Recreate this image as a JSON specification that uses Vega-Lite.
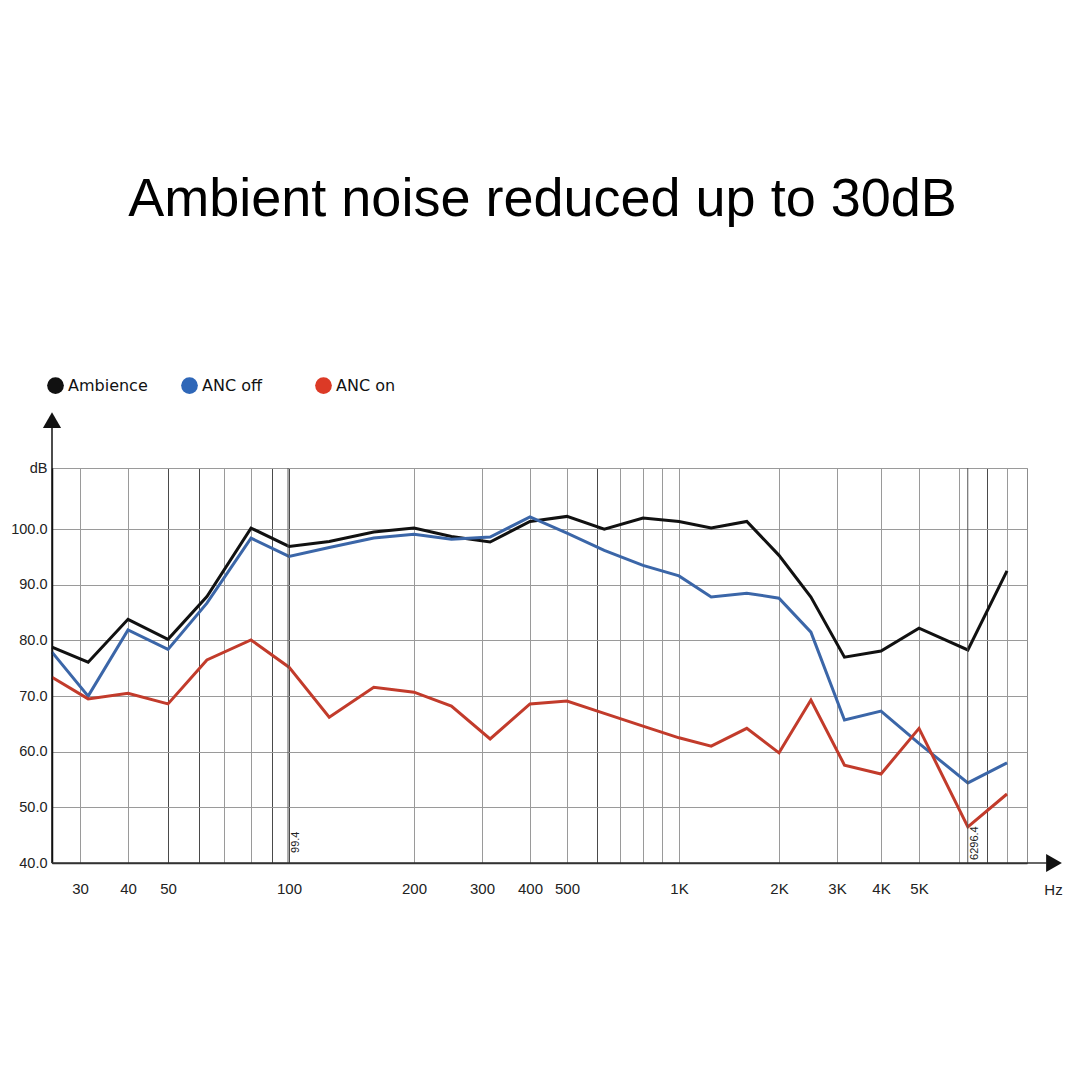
{
  "$schema": "https://vega.github.io/schema/vega-lite/v6.json",
  "width": 975,
  "height": 395,
  "autosize": {"type": "none"},
  "padding": {"left": 52, "top": 468, "right": 53, "bottom": 217},
  "background": "white",
  "title": {
    "text": "Ambient noise reduced up to 30dB",
    "font": "Liberation Sans",
    "fontSize": 54,
    "fontWeight": "normal",
    "color": "#000000",
    "anchor": "middle",
    "frame": "group",
    "baseline": "alphabetic",
    "offset": 107,
    "dx": 3
  },
  "config": {
    "view": {"stroke": "#8c8c8c", "strokeWidth": 1}
  },
  "datasets": {
    "noise": [
      {"freq": 25, "series": "Ambience", "db": 78.8},
      {"freq": 31.5, "series": "Ambience", "db": 76.1},
      {"freq": 40, "series": "Ambience", "db": 83.8},
      {"freq": 50, "series": "Ambience", "db": 80.2},
      {"freq": 63, "series": "Ambience", "db": 87.9},
      {"freq": 80, "series": "Ambience", "db": 100.2},
      {"freq": 100, "series": "Ambience", "db": 96.9},
      {"freq": 125, "series": "Ambience", "db": 97.8},
      {"freq": 160, "series": "Ambience", "db": 99.5},
      {"freq": 200, "series": "Ambience", "db": 100.2},
      {"freq": 250, "series": "Ambience", "db": 98.7},
      {"freq": 315, "series": "Ambience", "db": 97.7},
      {"freq": 400, "series": "Ambience", "db": 101.4},
      {"freq": 500, "series": "Ambience", "db": 102.3},
      {"freq": 630, "series": "Ambience", "db": 100.0},
      {"freq": 800, "series": "Ambience", "db": 102.0},
      {"freq": 1000, "series": "Ambience", "db": 101.4},
      {"freq": 1250, "series": "Ambience", "db": 100.2},
      {"freq": 1600, "series": "Ambience", "db": 101.4},
      {"freq": 2000, "series": "Ambience", "db": 95.3},
      {"freq": 2500, "series": "Ambience", "db": 87.8},
      {"freq": 3150, "series": "Ambience", "db": 77.0},
      {"freq": 4000, "series": "Ambience", "db": 78.1},
      {"freq": 5000, "series": "Ambience", "db": 82.2},
      {"freq": 6300, "series": "Ambience", "db": 78.3},
      {"freq": 8000, "series": "Ambience", "db": 92.5},

      {"freq": 25, "series": "ANC off", "db": 77.9},
      {"freq": 31.5, "series": "ANC off", "db": 70.0},
      {"freq": 40, "series": "ANC off", "db": 81.9},
      {"freq": 50, "series": "ANC off", "db": 78.4},
      {"freq": 63, "series": "ANC off", "db": 86.7},
      {"freq": 80, "series": "ANC off", "db": 98.4},
      {"freq": 100, "series": "ANC off", "db": 95.1},
      {"freq": 125, "series": "ANC off", "db": 96.7},
      {"freq": 160, "series": "ANC off", "db": 98.4},
      {"freq": 200, "series": "ANC off", "db": 99.1},
      {"freq": 250, "series": "ANC off", "db": 98.2},
      {"freq": 315, "series": "ANC off", "db": 98.6},
      {"freq": 400, "series": "ANC off", "db": 102.2},
      {"freq": 500, "series": "ANC off", "db": 99.3},
      {"freq": 630, "series": "ANC off", "db": 96.2},
      {"freq": 800, "series": "ANC off", "db": 93.5},
      {"freq": 1000, "series": "ANC off", "db": 91.6},
      {"freq": 1250, "series": "ANC off", "db": 87.8},
      {"freq": 1600, "series": "ANC off", "db": 88.5},
      {"freq": 2000, "series": "ANC off", "db": 87.6},
      {"freq": 2500, "series": "ANC off", "db": 81.5},
      {"freq": 3150, "series": "ANC off", "db": 65.7},
      {"freq": 4000, "series": "ANC off", "db": 67.3},
      {"freq": 5000, "series": "ANC off", "db": 61.5},
      {"freq": 6300, "series": "ANC off", "db": 54.4},
      {"freq": 8000, "series": "ANC off", "db": 58.0},

      {"freq": 25, "series": "ANC on", "db": 73.4},
      {"freq": 31.5, "series": "ANC on", "db": 69.5},
      {"freq": 40, "series": "ANC on", "db": 70.5},
      {"freq": 50, "series": "ANC on", "db": 68.6},
      {"freq": 63, "series": "ANC on", "db": 76.5},
      {"freq": 80, "series": "ANC on", "db": 80.1},
      {"freq": 100, "series": "ANC on", "db": 75.2},
      {"freq": 125, "series": "ANC on", "db": 66.2},
      {"freq": 160, "series": "ANC on", "db": 71.6},
      {"freq": 200, "series": "ANC on", "db": 70.7},
      {"freq": 250, "series": "ANC on", "db": 68.2},
      {"freq": 315, "series": "ANC on", "db": 62.3},
      {"freq": 400, "series": "ANC on", "db": 68.6},
      {"freq": 500, "series": "ANC on", "db": 69.1},
      {"freq": 630, "series": "ANC on", "db": 66.9},
      {"freq": 800, "series": "ANC on", "db": 64.6},
      {"freq": 1000, "series": "ANC on", "db": 62.5},
      {"freq": 1250, "series": "ANC on", "db": 61.0},
      {"freq": 1600, "series": "ANC on", "db": 64.2},
      {"freq": 2000, "series": "ANC on", "db": 59.8},
      {"freq": 2500, "series": "ANC on", "db": 69.3},
      {"freq": 3150, "series": "ANC on", "db": 57.6},
      {"freq": 4000, "series": "ANC on", "db": 56.0},
      {"freq": 5000, "series": "ANC on", "db": 64.2},
      {"freq": 6300, "series": "ANC on", "db": 46.5},
      {"freq": 8000, "series": "ANC on", "db": 52.4}
    ],
    "cursors": [
      {"freq": 99.4, "label": "99.4"},
      {"freq": 6296.4, "label": "6296.4"}
    ]
  },
  "layer": [
    {
      "data": {"name": "noise"},
      "mark": {"type": "line", "strokeWidth": 3, "strokeJoin": "miter"},
      "encoding": {
        "x": {
          "field": "freq",
          "type": "quantitative",
          "scale": {
            "type": "log",
            "domain": [25, 30, 40, 50, 60, 70, 80, 90, 100, 200, 300, 400, 500, 600, 700, 800, 900, 1000, 2000, 3000, 4000, 5000, 6000, 7000, 8000, 9000],
            "range": [0, 28, 76, 116, 147, 172, 199, 220, 237, 362, 430, 478, 515, 545, 568, 591, 610, 627, 727, 785, 829, 867, 907, 935, 955, 975],
            "nice": false
          },
          "axis": {
            "values": [30, 40, 50, 60, 70, 80, 90, 100, 200, 300, 400, 500, 600, 700, 800, 900, 1000, 2000, 3000, 4000, 5000, 6000, 7000, 8000],
            "labelExpr": "indexof([30, 40, 50, 100, 200, 300, 400, 500], datum.value) >= 0 ? '' + datum.value : (indexof([1000, 2000, 3000, 4000, 5000], datum.value) >= 0 ? (datum.value / 1000) + 'K' : '')",
            "labelFont": "Liberation Sans",
            "labelFontSize": 15,
            "labelColor": "#222222",
            "labelPadding": 18,
            "labelOverlap": false,
            "labelFlush": false,
            "labelBound": false,
            "ticks": false,
            "domainColor": "#333333",
            "domainWidth": 1.5,
            "grid": true,
            "gridColor": {"condition": {"test": "indexof([50, 60, 90, 100, 600, 7000], datum.value) >= 0", "value": "#4a4a4a"}, "value": "#9a9a9a"},
            "gridWidth": 1,
            "gridOpacity": 1,
            "title": "Hz",
            "titleFont": "Liberation Sans",
            "titleFontSize": 15,
            "titleFontWeight": "normal",
            "titleColor": "#222222",
            "titleX": 1001,
            "titleY": 26,
            "titleAlign": "center",
            "titleBaseline": "middle",
            "titleAnchor": null
          }
        },
        "y": {
          "field": "db",
          "type": "quantitative",
          "scale": {"domain": [40, 111], "nice": false, "zero": false},
          "axis": {
            "values": [40, 50, 60, 70, 80, 90, 100, 111],
            "labelExpr": "datum.value > 105 ? 'dB' : format(datum.value, '.1f')",
            "labelFont": "Liberation Sans",
            "labelFontSize": 14.5,
            "labelColor": "#222222",
            "labelPadding": 5,
            "labelOverlap": false,
            "labelFlush": false,
            "labelBound": false,
            "ticks": false,
            "domainColor": "#111111",
            "domainWidth": 1.5,
            "grid": true,
            "gridColor": "#9a9a9a",
            "gridWidth": 1,
            "gridOpacity": 1,
            "title": null
          }
        },
        "color": {
          "field": "series",
          "type": "nominal",
          "scale": {"domain": ["Ambience", "ANC off", "ANC on"], "range": ["#111111", "#3b66a8", "#c23b2b"]},
          "legend": {
            "title": null,
            "orient": "none",
            "legendX": -5,
            "legendY": -91,
            "direction": "horizontal",
            "gridAlign": "all",
            "columnPadding": 33,
            "symbolType": "circle",
            "symbolSize": 280,
            "symbolStrokeWidth": 0,
            "labelOffset": 4,
            "labelFont": "DejaVu Sans",
            "labelFontSize": 16,
            "labelColor": "#111111",
            "encode": {
              "symbols": {
                "update": {
                  "fill": {"signal": "datum.value === 'Ambience' ? '#111111' : (datum.value === 'ANC off' ? '#2f67b8' : '#dc3a26')"},
                  "fillOpacity": {"value": 1},
                  "opacity": {"value": 1}
                }
              }
            }
          }
        }
      }
    },
    {
      "data": {"name": "cursors"},
      "mark": {"type": "rule", "color": "#555555", "strokeWidth": 1},
      "encoding": {
        "x": {"field": "freq", "type": "quantitative"}
      }
    },
    {
      "data": {"name": "cursors"},
      "transform": [{"filter": "datum.label === '99.4'"}],
      "mark": {"type": "text", "angle": 270, "align": "left", "baseline": "top", "dy": 2, "font": "Liberation Sans", "fontSize": 11, "color": "#222222"},
      "encoding": {
        "x": {"field": "freq", "type": "quantitative"},
        "y": {"datum": 41.8, "type": "quantitative"},
        "text": {"field": "label"}
      }
    },
    {
      "data": {"name": "cursors"},
      "transform": [{"filter": "datum.label === '6296.4'"}],
      "mark": {"type": "text", "angle": 270, "align": "left", "baseline": "top", "dy": 1, "font": "Liberation Sans", "fontSize": 11, "color": "#222222"},
      "encoding": {
        "x": {"field": "freq", "type": "quantitative"},
        "y": {"datum": 40.55, "type": "quantitative"},
        "text": {"field": "label"}
      }
    },
    {
      "data": {"values": [{}]},
      "mark": {"type": "rule", "color": "#111111", "strokeWidth": 1.5},
      "encoding": {
        "x": {"datum": 25, "type": "quantitative"},
        "y": {"datum": 40, "type": "quantitative"},
        "y2": {"datum": 118.5}
      }
    },
    {
      "data": {"values": [{}]},
      "mark": {"type": "rule", "color": "#333333", "strokeWidth": 1.5},
      "encoding": {
        "x": {"datum": 25, "type": "quantitative"},
        "x2": {"datum": 10100},
        "y": {"datum": 40, "type": "quantitative"}
      }
    },
    {
      "data": {"values": [{}]},
      "mark": {"type": "point", "shape": "triangle-up", "filled": true, "size": 330, "color": "#111111", "opacity": 1},
      "encoding": {
        "x": {"datum": 25, "type": "quantitative"},
        "y": {"datum": 119.6, "type": "quantitative"}
      }
    },
    {
      "data": {"values": [{}]},
      "mark": {"type": "point", "shape": "triangle-right", "filled": true, "size": 330, "color": "#111111", "opacity": 1},
      "encoding": {
        "x": {"datum": 10550, "type": "quantitative"},
        "y": {"datum": 40, "type": "quantitative"}
      }
    }
  ]
}
